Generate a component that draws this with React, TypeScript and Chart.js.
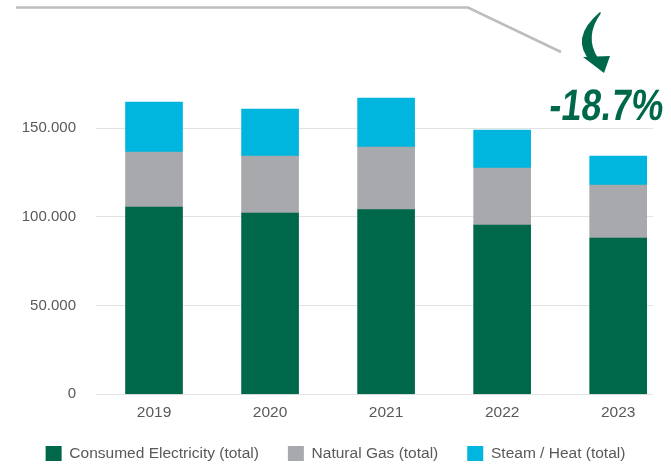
import React, { useEffect, useRef } from 'react';
import { Chart, registerables } from 'chart.js';

Chart.register(...registerables);

const years = ['2019', '2020', '2021', '2022', '2023'];
const electricity = [105600, 102200, 104100, 95400, 88100];
const naturalGas = [31000, 32100, 35300, 32200, 29900];
const steamHeat = [28200, 26500, 27600, 21400, 16300];
const yTickValues = [0, 50000, 100000, 150000];
const changeLabel = '-18.7%';

const seriesLabels = ['Consumed Electricity (total)', 'Natural Gas (total)', 'Steam / Heat (total)'];
const seriesColors = ['#00684A', '#A7A9AC', '#00B6DE'];

const fmt = (v: number) => String(v).replace(/\B(?=(\d{3})+(?!\d))/g, '.');

const legendShift = {
  id: 'legendShift',
  afterLayout(chart: any) {
    const lg = chart.legend;
    if (!lg) return;
    const target = 416.75;
    const dy = target - lg.top;
    lg.top += dy;
    lg.bottom += dy;
    if (lg.legendHitBoxes) lg.legendHitBoxes.forEach((h: any) => (h.top += dy));
  },
};

const decorPlugin = {
  id: 'decor',
  afterDraw(chart: any) {
    const ctx = chart.ctx as CanvasRenderingContext2D;
    ctx.save();
    ctx.strokeStyle = '#bdbdbd';
    ctx.lineWidth = 2.5;
    ctx.beginPath();
    ctx.moveTo(16, 7.5);
    ctx.lineTo(468, 7.5);
    ctx.lineTo(561, 52);
    ctx.stroke();

    ctx.fillStyle = '#00684A';
    ctx.beginPath();
    ctx.moveTo(600, 12);
    ctx.quadraticCurveTo(569, 38, 591, 62);
    ctx.lineTo(598, 58);
    ctx.quadraticCurveTo(584, 37, 601, 13);
    ctx.closePath();
    ctx.fill();
    ctx.beginPath();
    ctx.moveTo(583, 57);
    ctx.lineTo(610, 56);
    ctx.lineTo(604, 73);
    ctx.closePath();
    ctx.fill();

    ctx.font = 'bold 44px "Liberation Sans", Arial, sans-serif';
    ctx.textBaseline = 'alphabetic';
    const w = ctx.measureText(changeLabel).width;
    ctx.translate(548, 120);
    ctx.transform(114 / w, 0, -0.12, 1, 0, 0);
    ctx.fillText(changeLabel, 0, 0);
    ctx.restore();
  },
};

export default function App() {
  const ref = useRef<HTMLCanvasElement | null>(null);

  useEffect(() => {
    document.body.style.margin = '0';
    if (!ref.current) return;
    const seriesData = [electricity, naturalGas, steamHeat];
    const chart = new Chart(ref.current, {
      type: 'bar',
      data: {
        datasets: seriesData.map((arr, k) => ({
          label: seriesLabels[k],
          data: arr.map((v, i) => ({ x: i, y: v })),
          backgroundColor: seriesColors[k],
          borderWidth: 0,
          barThickness: 57,
        })),
      },
      options: {
        responsive: false,
        animation: false,
        devicePixelRatio: 1,
        layout: { padding: { top: 39.6, left: 0, right: 0, bottom: -13 } },
        plugins: {
          legend: {
            position: 'bottom',
            labels: {
              boxWidth: 16,
              boxHeight: 15,
              padding: 29,
              color: '#595959',
              font: { family: '"Liberation Sans", Arial, sans-serif', size: 15.5 },
            },
          },
          tooltip: { enabled: false },
        },
        scales: {
          x: {
            type: 'linear',
            offset: false,
            stacked: true,
            min: -0.5,
            max: 4.3,
            grid: { display: false, offset: false, drawTicks: false },
            border: { display: false },
            afterBuildTicks: (s: any) => {
              s.ticks = years.map((_, i) => ({ value: i }));
            },
            afterFit: (s: any) => {
              s.height = 28.2;
            },
            ticks: {
              padding: 9.4,
              color: '#595959',
              autoSkip: false,
              maxRotation: 0,
              font: { family: '"Liberation Sans", Arial, sans-serif', size: 15.5 },
              callback: (v: any) => years[v as number] ?? '',
            },
          },
          y: {
            stacked: true,
            min: 0,
            max: 200000,
            grid: { color: '#e3e3e3', lineWidth: 1, drawTicks: false },
            border: { display: false },
            afterBuildTicks: (s: any) => {
              s.ticks = yTickValues.map((v) => ({ value: v }));
            },
            afterFit: (s: any) => {
              s.width = 96;
            },
            ticks: {
              padding: 20,
              color: '#595959',
              font: { family: '"Liberation Sans", Arial, sans-serif', size: 15 },
              callback: (v: any) => fmt(v as number),
            },
          },
          yRight: {
            position: 'right',
            display: true,
            grid: { display: false },
            border: { display: false },
            ticks: { display: false },
            afterFit: (s: any) => {
              s.width = 18;
            },
          },
        },
      } as any,
      plugins: [legendShift, decorPlugin],
    });
    return () => chart.destroy();
  }, []);

  return (
    <div style={{ width: 671, height: 464 }}>
      <canvas ref={ref} width={671} height={464} style={{ display: 'block' }} />
    </div>
  );
}
